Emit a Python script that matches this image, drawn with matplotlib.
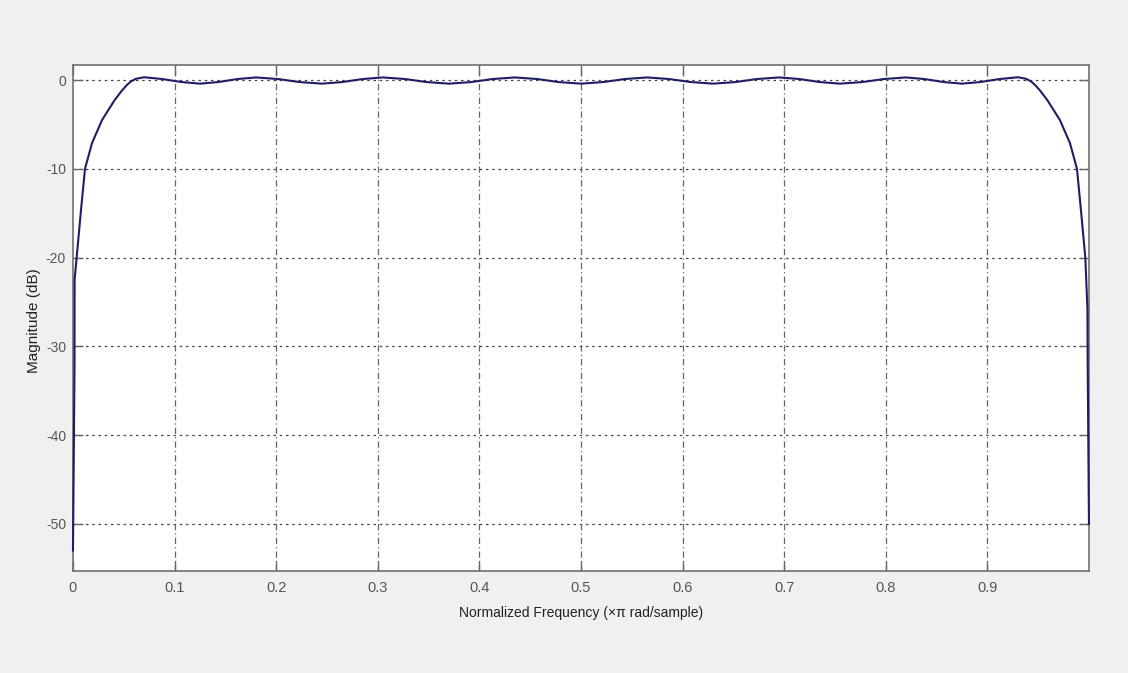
import matplotlib
matplotlib.use("Agg")
import matplotlib.pyplot as plt

# ---------------------------------------------------------------------------
# Data (normalized frequency, magnitude in dB)
# ---------------------------------------------------------------------------
freq = [
    0.0, 0.0015, 0.0016, 0.0036, 0.0076, 0.0118, 0.0187, 0.0286, 0.041, 0.048, 0.053, 0.057, 0.062,
    0.070, 0.088, 0.107, 0.125, 0.143, 0.162,
    0.180, 0.202, 0.223, 0.245, 0.265, 0.285,
    0.305, 0.327, 0.348, 0.370, 0.392, 0.413,
    0.435, 0.457, 0.478, 0.500, 0.522, 0.543,
    0.565, 0.587, 0.608, 0.630, 0.652, 0.673,
    0.695, 0.715, 0.735, 0.755, 0.777, 0.798,
    0.820, 0.838, 0.857, 0.875, 0.893, 0.912,
    0.930, 0.938, 0.943, 0.947, 0.952, 0.959, 0.9714, 0.9813, 0.9882, 0.9924, 0.9964, 0.9985, 0.9987, 1.0,
]
mag_db = [
    -53.0, -32.5, -22.5, -20.0, -15.0, -10.0, -7.1, -4.5, -2.25, -1.2, -0.56, -0.15, 0.15,
    0.32, 0.12, -0.22, -0.40, -0.22, 0.12,
    0.30, 0.12, -0.22, -0.40, -0.22, 0.12,
    0.30, 0.12, -0.22, -0.40, -0.22, 0.12,
    0.30, 0.12, -0.22, -0.40, -0.22, 0.12,
    0.30, 0.12, -0.22, -0.40, -0.22, 0.12,
    0.30, 0.12, -0.22, -0.40, -0.22, 0.12,
    0.30, 0.12, -0.22, -0.40, -0.22, 0.12,
    0.32, 0.15, -0.15, -0.56, -1.2, -2.25, -4.5, -7.1, -10.0, -15.0, -20.0, -25.8, -31.6, -50.0,
]

x_ticks = [0, 0.1, 0.2, 0.3, 0.4, 0.5, 0.6, 0.7, 0.8, 0.9]
x_tick_labels = ["0", "0.1", "0.2", "0.3", "0.4", "0.5", "0.6", "0.7", "0.8", "0.9"]
y_ticks = [0, -10, -20, -30, -40, -50]
y_tick_labels = ["0", "-10", "-20", "-30", "-40", "-50"]

# ---------------------------------------------------------------------------
# Figure
# ---------------------------------------------------------------------------
FONT = ["Liberation Sans", "DejaVu Sans"]

fig = plt.figure(figsize=(11.28, 6.73), dpi=100)
fig.patch.set_facecolor("#F0F0F0")
ax = fig.add_axes([0.0647, 0.1516, 0.9007, 0.7518])
ax.set_facecolor("#FFFFFF")

# grid: dotted horizontals, dash-dot verticals (MATLAB look)
for y in y_ticks:
    ax.axhline(y, color="#444444", linewidth=0.9, linestyle=(0, (2, 3)), zorder=1)
for x in x_ticks[1:]:
    ax.axvline(x, color="#666666", linewidth=0.9, linestyle=(0, (5, 2.5, 1, 2.5)), zorder=1)

ax.plot(freq, mag_db, color="#1E1E66", linewidth=1.5, zorder=4, clip_on=False)

ax.set_xlim(0, 1)
ax.set_ylim(-55.3, 1.7)
ax.set_xticks(x_ticks)
ax.set_xticklabels(x_tick_labels, fontsize=10.5, color="#555555", family=FONT)
ax.set_yticks(y_ticks)
ax.set_yticklabels(y_tick_labels, fontsize=10, color="#555555", family=FONT)
ax.tick_params(axis="x", direction="in", length=7, width=1, color="#666666",
               top=True, pad=7)
ax.tick_params(axis="y", direction="in", length=7, width=1, color="#666666",
               right=True, pad=5)

for spine in ax.spines.values():
    spine.set_color("#707070")
    spine.set_linewidth(1.2)

ax.set_xlabel("Normalized Frequency (\u00d7\u03c0 rad/sample)", fontsize=10,
              color="#222222", family=FONT, labelpad=8)
fig.text(34 / 1128, 1 - 321 / 673, "Magnitude (dB)", rotation=90,
         ha="center", va="center", fontsize=11, color="#222222", family=FONT)

plt.savefig("out.png", dpi=100, facecolor=fig.get_facecolor())
plt.close(fig)
